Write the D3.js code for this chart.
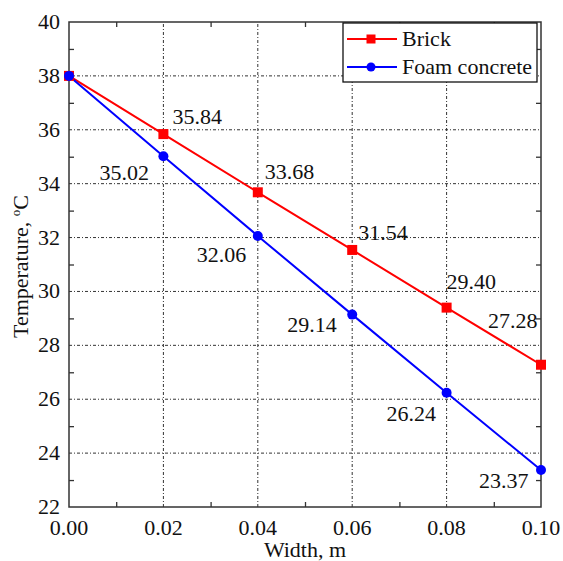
<!DOCTYPE html>
<html>
<head>
<meta charset="utf-8">
<script src="https://d3js.org/d3.v7.min.js"></script>
<style>
  html, body { margin: 0; padding: 0; background: #fff; }
</style>
</head>
<body>
<script>
// chart values
const widths = [0, 0.02, 0.04, 0.06, 0.08, 0.10];
const brick = [38.0, 35.84, 33.68, 31.54, 29.40, 27.28];
const foam = [38.0, 35.02, 32.06, 29.14, 26.24, 23.37];
const xTicks = [0, 0.02, 0.04, 0.06, 0.08, 0.10];
const yTicks = [22, 24, 26, 28, 30, 32, 34, 36, 38, 40];
const seriesNames = ["Brick", "Foam concrete"];

const width = 563, height = 561;
const margin = {top: 22, right: 22, bottom: 54, left: 69};
const fontFam = '"Liberation Serif", "Times New Roman", "DejaVu Serif", serif';
const fs = 22;

const svg = d3.select("body").append("svg")
    .attr("width", width)
    .attr("height", height)
    .attr("font-family", fontFam)
    .style("font-family", fontFam);

const x = d3.scaleLinear().domain([0, 0.10]).range([margin.left, width - margin.right]);
const y = d3.scaleLinear().domain([22, 40]).range([height - margin.bottom, margin.top]);

// grid lines (dash-dot)
const grid = svg.append("g").attr("stroke", "#333").attr("stroke-width", 1)
    .attr("stroke-dasharray", "3,2,1,2");
grid.selectAll("line.v").data(xTicks.slice(1, -1)).enter().append("line")
    .attr("x1", d => x(d)).attr("x2", d => x(d))
    .attr("y1", y(22)).attr("y2", y(40));
grid.selectAll("line.h").data(yTicks.slice(1, -1)).enter().append("line")
    .attr("x1", x(0)).attr("x2", x(0.10))
    .attr("y1", d => y(d)).attr("y2", d => y(d));

// minor ticks, pointing inward on all four sides
const minorX = [0.01, 0.03, 0.05, 0.07, 0.09];
const minorY = [23, 25, 27, 29, 31, 33, 35, 37, 39];
const axes = svg.append("g");
axes.append("g").attr("transform", `translate(0,${y(22)})`)
    .call(d3.axisBottom(x).tickValues(minorX).tickSize(-5).tickFormat(""));
axes.append("g").attr("transform", `translate(0,${y(40)})`)
    .call(d3.axisTop(x).tickValues(minorX).tickSize(-5).tickFormat(""));
axes.append("g").attr("transform", `translate(${x(0)},0)`)
    .call(d3.axisLeft(y).tickValues(minorY).tickSize(-5).tickFormat(""));
axes.append("g").attr("transform", `translate(${x(0.10)},0)`)
    .call(d3.axisRight(y).tickValues(minorY).tickSize(-5).tickFormat(""));
axes.selectAll(".domain").remove();
axes.selectAll("line").attr("stroke", "#333").attr("stroke-width", 1.3);

svg.append("rect")
    .attr("x", x(0)).attr("y", y(40))
    .attr("width", x(0.10) - x(0)).attr("height", y(22) - y(40))
    .attr("fill", "none").attr("stroke", "#333").attr("stroke-width", 1.5);

// tick labels
svg.append("g").selectAll("text").data(xTicks).enter().append("text")
    .attr("x", d => x(d)).attr("y", y(22) + 28)
    .attr("text-anchor", "middle").attr("font-size", fs).attr("fill", "#111")
    .text(d => d3.format(".2f")(d));
svg.append("g").selectAll("text").data(yTicks).enter().append("text")
    .attr("x", x(0) - 9).attr("y", d => y(d) + 7)
    .attr("text-anchor", "end").attr("font-size", fs).attr("fill", "#111")
    .text(d => d);

// axis titles
svg.append("text")
    .attr("x", (x(0) + x(0.10)) / 2).attr("y", 557)
    .attr("text-anchor", "middle").attr("font-size", fs).attr("fill", "#111")
    .text("Width, m");
svg.append("text")
    .attr("transform", `translate(28,${(y(22) + y(40)) / 2 + 2}) rotate(-90)`)
    .attr("text-anchor", "middle").attr("font-size", fs).attr("fill", "#111")
    .html('Temperature, <tspan dy="-8" font-size="13">o</tspan><tspan dy="8">C</tspan>');

// lines and markers
const line = d3.line().x((d, i) => x(widths[i])).y(d => y(d));
svg.append("path").datum(brick).attr("d", line)
    .attr("fill", "none").attr("stroke", "#ff0000").attr("stroke-width", 2);
svg.append("path").datum(foam).attr("d", line)
    .attr("fill", "none").attr("stroke", "#0000ff").attr("stroke-width", 2);

svg.append("g").selectAll("rect").data(brick).enter().append("rect")
    .attr("x", (d, i) => x(widths[i]) - 5).attr("y", d => y(d) - 5)
    .attr("width", 10).attr("height", 10).attr("fill", "#ff0000");
svg.append("g").selectAll("circle").data(foam).enter().append("circle")
    .attr("cx", (d, i) => x(widths[i])).attr("cy", d => y(d))
    .attr("r", 5).attr("fill", "#0000ff");

// value labels, offsets from their points
const brickOff = [null, [9, -10], [7, -13], [6, -10], [0, -19], [-53, -37]];
const foamOff = [null, [-64, 24], [-61, 26], [-65, 17], [-60, 28], [-62, 18]];
function addLabels(vals, offs) {
  svg.append("g").selectAll("text").data(vals.slice(1)).enter().append("text")
      .attr("x", (d, i) => x(widths[i + 1]) + offs[i + 1][0])
      .attr("y", (d, i) => y(d) + offs[i + 1][1])
      .attr("font-size", fs).attr("fill", "#111")
      .text(d => d.toFixed(2));
}
addLabels(brick, brickOff);
addLabels(foam, foamOff);

// legend
const lg = svg.append("g").attr("transform", "translate(343,23)");
lg.append("rect").attr("width", 194).attr("height", 59)
    .attr("fill", "#fff").attr("stroke", "#111").attr("stroke-width", 1.3);
const colors = ["#ff0000", "#0000ff"];
seriesNames.forEach((name, i) => {
  const cy = 16 + i * 28;
  lg.append("line").attr("x1", 4).attr("x2", 54).attr("y1", cy).attr("y2", cy)
      .attr("stroke", colors[i]).attr("stroke-width", 2);
  if (i === 0) {
    lg.append("rect").attr("x", 23.5).attr("y", cy - 4.5).attr("width", 9).attr("height", 9)
        .attr("fill", colors[i]);
  } else {
    lg.append("circle").attr("cx", 28).attr("cy", cy).attr("r", 4.5).attr("fill", colors[i]);
  }
  lg.append("text").attr("x", 59).attr("y", cy + 7)
      .attr("font-size", fs).attr("fill", "#111").text(name);
});
</script>
</body>
</html>
